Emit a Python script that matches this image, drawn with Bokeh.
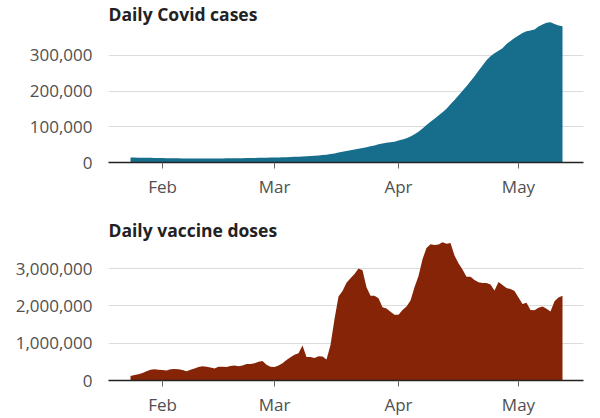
import pandas as pd
from bokeh.plotting import figure
from bokeh.models import (FixedTicker, NumeralTickFormatter, DatetimeTickFormatter,
                          Label, Range1d, ColumnDataSource)
from bokeh.layouts import column
from bokeh.embed import file_html
from bokeh.resources import INLINE

# ---------------- data ----------------
start_date = "2021-01-24"

cases_thousands = [
    14.0, 13.8, 13.6, 13.4, 13.2, 13.0, 12.8, 12.6, 12.4, 12.2,
    12.0, 11.8, 11.6, 11.4, 11.2, 11.1, 11.0, 10.9, 10.9, 11.0,
    11.1, 11.2, 11.4, 11.5, 11.7, 11.8, 11.9, 12.0, 12.2, 12.4,
    12.6, 12.8, 13.0, 13.2, 13.5, 13.8, 14.0, 14.3, 14.6, 15.0,
    15.4, 15.8, 16.2, 16.7, 17.3, 18.0, 18.8, 19.8, 20.8, 22.0,
    23.5, 25.5, 27.8, 30.0, 32.5, 34.5, 36.5, 38.5, 40.5, 43.0,
    45.5, 48.0, 51.0, 53.5, 55.5, 57.0, 58.5, 62.0, 64.5, 68.0,
    73.0, 79.0, 86.0, 95.0, 105.0, 114.0, 123.0, 132.0, 141.0, 151.0,
    163.0, 175.0, 188.0, 201.0, 214.0, 228.0, 242.0, 257.0, 272.0, 287.0,
    298.0, 306.0, 313.0, 320.0, 332.0, 341.0, 349.0, 356.0, 363.0, 368.0,
    370.0, 373.0, 381.0, 387.0, 392.0, 393.0, 388.0, 384.0, 382.0,
]

doses_millions = [
    0.12, 0.15, 0.17, 0.20, 0.25, 0.29, 0.30, 0.29, 0.28, 0.27,
    0.30, 0.31, 0.30, 0.28, 0.25, 0.29, 0.32, 0.36, 0.38, 0.37,
    0.35, 0.32, 0.37, 0.37, 0.36, 0.39, 0.40, 0.38, 0.40, 0.44,
    0.44, 0.46, 0.50, 0.52, 0.42, 0.37, 0.36, 0.40, 0.46, 0.55,
    0.62, 0.69, 0.73, 0.94, 0.63, 0.63, 0.60, 0.65, 0.64, 0.56,
    0.95, 1.65, 2.25, 2.40, 2.62, 2.74, 2.85, 3.00, 2.95, 2.50,
    2.27, 2.27, 2.20, 1.96, 1.93, 1.84, 1.76, 1.76, 1.89, 1.98,
    2.14, 2.50, 2.80, 3.25, 3.55, 3.65, 3.63, 3.64, 3.70, 3.66,
    3.68, 3.35, 3.14, 2.97, 2.78, 2.78, 2.69, 2.63, 2.61, 2.61,
    2.57, 2.41, 2.64, 2.56, 2.48, 2.45, 2.40, 2.22, 2.05, 2.08,
    1.89, 1.88, 1.95, 1.98, 1.92, 1.85, 2.12, 2.22, 2.27,
]

month_ticks = ["2021-02-01", "2021-03-01", "2021-04-01", "2021-05-01"]
cases_ticks = [0, 100000, 200000, 300000]
doses_ticks = [0, 1000000, 2000000, 3000000]

titles = ["Daily Covid cases", "Daily vaccine doses"]
colors = ["#176d8c", "#862408"]

# ---------------- build ----------------
dates = pd.date_range(start_date, periods=len(cases_thousands), freq="D")
src = ColumnDataSource(dict(
    date=dates,
    cases=[v * 1000 for v in cases_thousands],
    doses=[v * 1000000 for v in doses_millions],
))

x_start = pd.Timestamp(start_date) - pd.Timedelta(hours=132)
x_end = x_start + pd.Timedelta(hours=2850)
tick_ms = [pd.Timestamp(t).value // 10**6 for t in month_ticks]

FONT = "Open Sans"


def make_fig(col, yticks, y_end, height, top, bottom, title, color, title_y):
    p = figure(width=600, height=height, x_axis_type="datetime",
               x_range=Range1d(x_start, x_end), y_range=Range1d(0, y_end),
               output_backend="svg", toolbar_location=None,
               min_border_left=108, min_border_right=17,
               min_border_top=top, min_border_bottom=bottom)
    p.outline_line_color = None
    p.background_fill_color = "white"
    p.border_fill_color = "white"
    p.xgrid.visible = False
    p.ygrid.grid_line_color = "#dcdcdc"
    p.ygrid.grid_line_width = 1

    p.varea(x="date", y1=0, y2=col, source=src, fill_color=color, fill_alpha=1.0)

    ya = p.yaxis[0]
    ya.ticker = FixedTicker(ticks=yticks)
    ya.formatter = NumeralTickFormatter(format="0,0")
    ya.axis_line_color = None
    ya.major_tick_line_color = None
    ya.minor_tick_line_color = None
    ya.major_label_standoff = 10
    ya.major_label_text_font = FONT
    ya.major_label_text_font_size = "17px"
    ya.major_label_text_color = "#505050"

    xa = p.xaxis[0]
    xa.ticker = FixedTicker(ticks=tick_ms)
    xa.formatter = DatetimeTickFormatter(days="%b", months="%b", years="%b")
    xa.axis_line_color = "#222222"
    xa.axis_line_width = 1.5
    xa.major_tick_line_color = "#666666"
    xa.major_tick_out = 6
    xa.major_tick_in = 0
    xa.minor_tick_line_color = None
    xa.major_label_standoff = 6
    xa.major_label_text_font = FONT
    xa.major_label_text_font_size = "17px"
    xa.major_label_text_color = "#505050"

    p.add_layout(Label(x=0, y=title_y, x_units="screen", y_units="screen",
                       text=title, text_font=FONT, text_font_style="bold",
                       text_font_size="17.5px", text_color="#222222",
                       text_baseline="alphabetic", text_align="left"))
    return p


p1 = make_fig("cases", cases_ticks, 451400, 201, 1, 39, titles[0], colors[0], 149)
p2 = make_fig("doses", doses_ticks, 4393000, 217, 15, 37, titles[1], colors[1], 150.5)

layout = column(p1, p2)
open("out.html", "w").write(file_html(layout, INLINE))
